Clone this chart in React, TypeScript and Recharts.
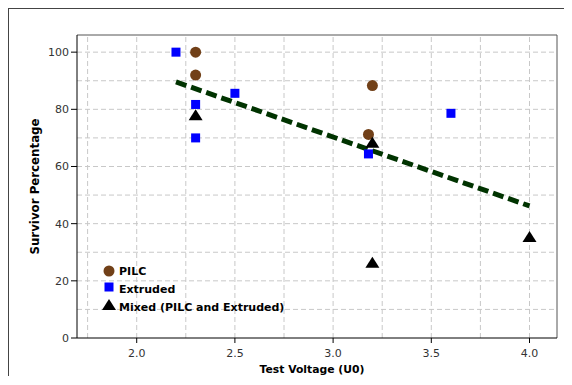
import React from 'react';
import {
  ScatterChart,
  Scatter,
  XAxis,
  YAxis,
  ReferenceLine,
  Legend,
} from 'recharts';

// ---- data ----
const pilc = [
  { x: 2.3, y: 100 },
  { x: 2.3, y: 92 },
  { x: 3.2, y: 88.3 },
  { x: 3.18, y: 71.2 },
];
const extruded = [
  { x: 2.2, y: 100 },
  { x: 2.3, y: 81.7 },
  { x: 2.3, y: 70 },
  { x: 2.5, y: 85.6 },
  { x: 3.6, y: 78.6 },
  { x: 3.18, y: 64.4 },
];
const mixed = [
  { x: 2.3, y: 77.9 },
  { x: 3.2, y: 68.3 },
  { x: 3.2, y: 26.3 },
  { x: 4.0, y: 35.3 },
];
const trend = [
  { x: 2.2, y: 89.6 },
  { x: 4.0, y: 46.2 },
];
const xTicks = [2.0, 2.5, 3.0, 3.5, 4.0];
const yTicks = [0, 20, 40, 60, 80, 100];
const xGrid = [1.75, 2.0, 2.25, 2.5, 2.75, 3.0, 3.25, 3.5, 3.75, 4.0];
const yGrid = [10, 20, 30, 40, 50, 60, 70, 80, 90, 100];
const xDomain = [1.696, 4.14];
const yDomain = [0, 106];
const seriesNames = ['PILC', 'Extruded', 'Mixed (PILC and Extruded)'];

const BROWN = '#714018';
const BLUE = '#0000ff';
const BLACK = '#000000';
const GREEN = '#003300';
const GRID = '#c8c8c8';

const Circle = (p: any) => <circle cx={p.cx} cy={p.cy} r={5.5} fill={BROWN} />;
const Square = (p: any) => (
  <rect x={p.cx - 4.5} y={p.cy - 4.5} width={9} height={9} fill={BLUE} />
);
const Tri = (p: any) => (
  <polygon
    points={`${p.cx},${p.cy - 6} ${p.cx - 7},${p.cy + 5} ${p.cx + 7},${p.cy + 5}`}
    fill={BLACK}
  />
);
const Nothing = () => <g />;

const LegendBox = () => (
  <svg width={200} height={56} style={{ display: 'block' }}>
    <circle cx={9} cy={9} r={5.5} fill={BROWN} />
    <rect x={4.5} y={20.5} width={9} height={9} fill={BLUE} />
    <polygon points="9,37 2,48 16,48" fill={BLACK} />
    <g fontFamily="DejaVu Sans" fontWeight="bold" fontSize={11} fill="#000">
      <text x={19} y={13}>{seriesNames[0]}</text>
      <text x={19} y={31}>{seriesNames[1]}</text>
      <text x={19} y={48.5}>{seriesNames[2]}</text>
    </g>
  </svg>
);

export default function App() {
  return (
    <div
      style={{
        width: 563,
        height: 367,
        borderTop: '1px solid #444',
        borderLeft: '1px solid #444',
        fontFamily: 'DejaVu Sans',
      }}
    >
      <ScatterChart
        width={563}
        height={367}
        margin={{ top: 26, right: 15, left: 8, bottom: 0 }}
      >
        {xGrid.map((v) => (
          <ReferenceLine
            key={'gx' + v}
            x={v}
            stroke={GRID}
            strokeDasharray="5 3"
            ifOverflow="visible"
          />
        ))}
        {yGrid.map((v) => (
          <ReferenceLine
            key={'gy' + v}
            y={v}
            stroke={GRID}
            strokeDasharray="5 3"
            ifOverflow="visible"
          />
        ))}
        <ReferenceLine y={yDomain[1]} stroke="#555" ifOverflow="visible" />
        <ReferenceLine x={xDomain[1]} stroke="#555" ifOverflow="visible" />
        <XAxis
          type="number"
          dataKey="x"
          domain={xDomain}
          allowDataOverflow
          ticks={xTicks}
          tickFormatter={(v: number) => v.toFixed(1)}
          height={38}
          tickSize={5}
          tickMargin={6}
          stroke="#000"
          tick={{ fill: '#333', fontSize: 11, fontFamily: 'DejaVu Sans' }}
          label={{
            value: 'Test Voltage (U0)',
            position: 'insideBottom',
            offset: 3,
            dx: -5,
            style: {
              fontWeight: 'bold',
              fontSize: 10.8,
              fill: '#000',
              fontFamily: 'DejaVu Sans',
            },
          }}
        />
        <YAxis
          type="number"
          dataKey="y"
          domain={yDomain}
          allowDataOverflow
          ticks={yTicks}
          width={60}
          tickSize={6}
          stroke="#000"
          tick={{ fill: '#333', fontSize: 11, fontFamily: 'DejaVu Sans' }}
          label={{
            value: 'Survivor Percentage',
            angle: -90,
            position: 'insideLeft',
            offset: 18,
            style: {
              textAnchor: 'middle',
              fontWeight: 'bold',
              fontSize: 11.8,
              fill: '#000',
              fontFamily: 'DejaVu Sans',
            },
          }}
        />
        <Scatter
          name="trend"
          data={trend}
          line={{ stroke: GREEN, strokeWidth: 5, strokeDasharray: '11 5' }}
          lineType="joint"
          shape={Nothing}
          legendType="none"
          isAnimationActive={false}
        />
        <Scatter name={seriesNames[0]} data={pilc} shape={Circle} isAnimationActive={false} />
        <Scatter name={seriesNames[1]} data={extruded} shape={Square} isAnimationActive={false} />
        <Scatter name={seriesNames[2]} data={mixed} shape={Tri} isAnimationActive={false} />
        <Legend
          layout="vertical"
          align="center"
          verticalAlign="middle"
          content={LegendBox}
          wrapperStyle={{ position: 'absolute', left: 91, top: 253, width: 200, height: 56 }}
        />
      </ScatterChart>
    </div>
  );
}
